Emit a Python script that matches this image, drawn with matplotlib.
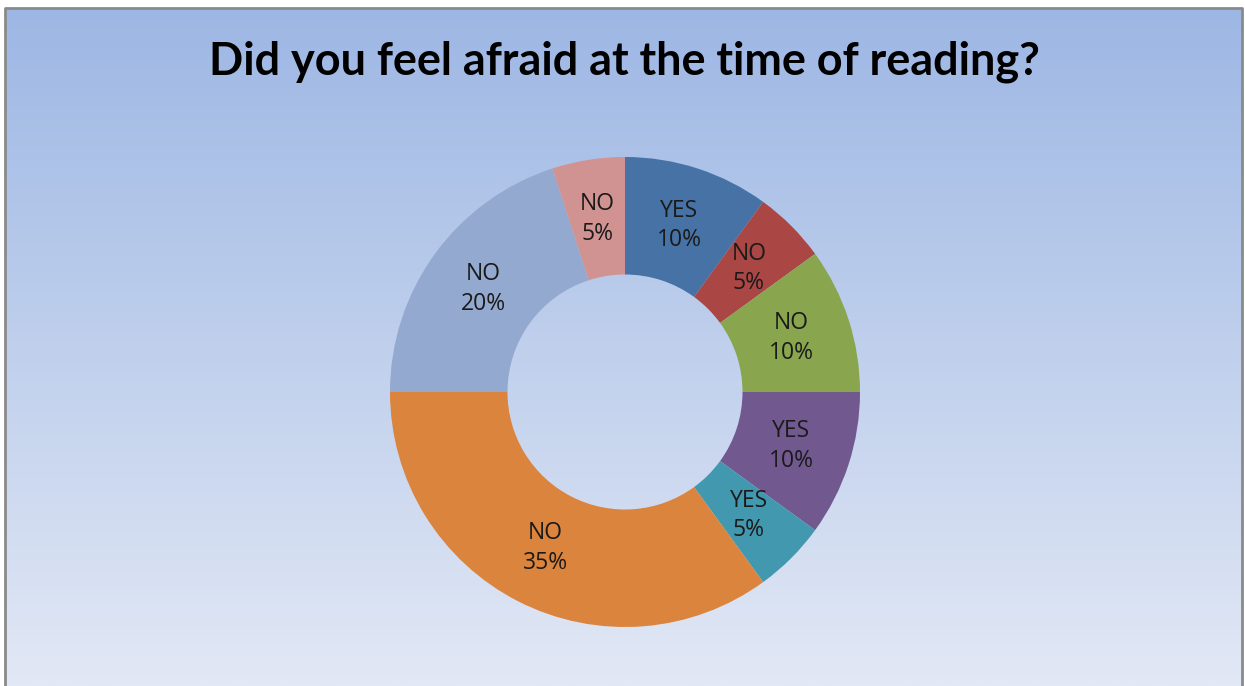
import numpy as np
import matplotlib
matplotlib.use("Agg")
import matplotlib.pyplot as plt

title = "Did you feel afraid at the time of reading?"
labels = ["YES", "NO", "NO", "YES", "YES", "NO", "NO", "NO"]
values = [10, 5, 10, 10, 5, 35, 20, 5]
colors = ["#4672A6", "#AA4643", "#89A54E", "#71588F", "#4198AF", "#DB843D", "#93A9CF", "#D19392"]

W, H = 1245, 686
fig = plt.figure(figsize=(W / 100, H / 100), dpi=100)
fig.patch.set_facecolor("white")

# background gradient panel
bg = fig.add_axes([0, 0, 1, 1])
bg.set_xlim(0, W)
bg.set_ylim(H, 0)
bg.axis("off")
top = np.array([157, 183, 228]) / 255
bot = np.array([226, 232, 245]) / 255
t = np.linspace(0, 1, 256)[:, None]
grad = (top[None, :] * (1 - t) + bot[None, :] * t)[:, None, :]
bg.imshow(grad, extent=[5, 1242, 686, 8], aspect="auto", interpolation="bilinear", zorder=0)
bg.plot([5, 5, 1242, 1242], [686, 8, 8, 686], color="#8A8A8A", lw=2, zorder=2)

bg.text(624, 62, title, ha="center", va="center", fontsize=32.4, fontweight="bold",
        family="Lato", color="black")

# donut
cx, cy, r = 625, 392, 235
ax = fig.add_axes([(cx - r) / W, (H - cy - r) / H, 2 * r / W, 2 * r / H])
ax.set_facecolor("none")
wedges, _ = ax.pie(values, colors=colors, startangle=90, counterclock=False,
                   radius=1, wedgeprops=dict(width=0.5, linewidth=0))
ax.set_xlim(-1, 1)
ax.set_ylim(-1, 1)
total = sum(values)
for w, lab, v in zip(wedges, labels, values):
    ang = np.deg2rad((w.theta1 + w.theta2) / 2)
    x, y = 0.745 * np.cos(ang), 0.745 * np.sin(ang)
    ax.text(x, y, f"{lab}\n{v / total * 100:.0f}%", ha="center", va="center",
            fontsize=16.5, family="Open Sans", color="#1a1a1a", linespacing=1.3)

fig.savefig("out.png", dpi=100)
